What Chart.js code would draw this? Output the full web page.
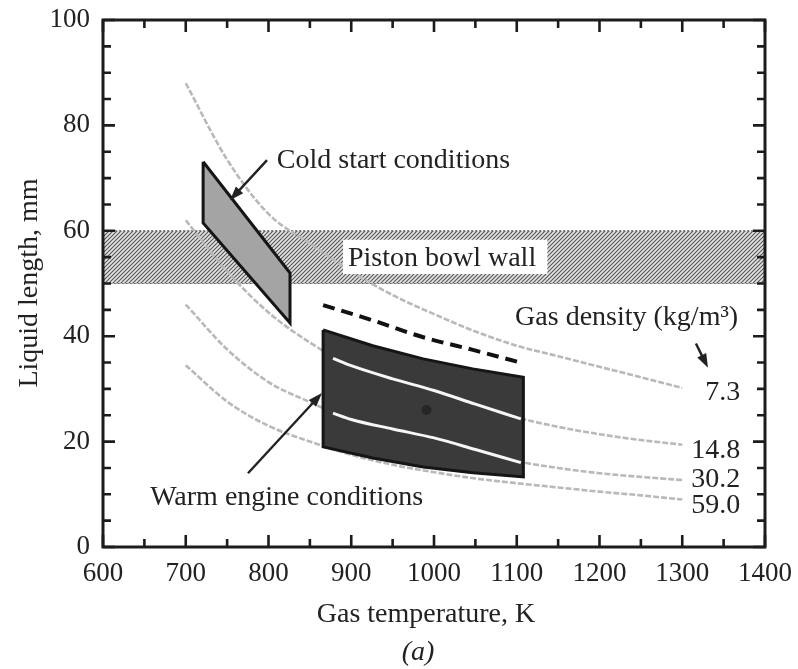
<!DOCTYPE html>
<html>
<head>
<meta charset="utf-8">
<script src="https://cdn.jsdelivr.net/npm/chart.js@4.4.0/dist/chart.umd.min.js"></script>
<style>
  html, body { margin: 0; padding: 0; background: #fff; }
  #wrap { width: 798px; height: 669px; position: relative; }
</style>
</head>
<body>
<div id="wrap"><canvas id="sprayChart"></canvas></div>
<script>
// gas temperature (K) and liquid length (mm) for each gas density curve
const temps = [700, 750, 800, 850, 900, 950, 1000, 1050, 1100, 1150, 1200, 1250, 1300];
const len73 = [88, 73.5, 63.2, 57.6, 52.3, 47.8, 44.2, 40.9, 38.2, 36.2, 34.2, 32.2, 30.2];
const len148 = [62, 52.3, 44.5, 38.8, 34.4, 31.9, 29.7, 27.1, 24.6, 22.8, 21.4, 20.3, 19.4];
const len302 = [46, 37.5, 31.3, 27.5, 24.2, 22.4, 20.7, 18.5, 16.3, 15.0, 14.0, 13.3, 12.7];
const len590 = [34.5, 27.6, 23.0, 20.0, 17.5, 15.6, 14.2, 13.0, 12.1, 11.3, 10.5, 9.8, 9.0];
const densityLabels = ['7.3', '14.8', '30.2', '59.0'];

// white parts of the 14.8 and 30.2 curves inside the warm box
const whiteTemps = [878, 900, 950, 1000, 1050, 1105];
const white148 = [35.8, 34.4, 31.9, 29.7, 27.1, 24.3];
const white302 = [25.4, 24.2, 22.4, 20.7, 18.5, 16.0];

// cold start region outline
const coldTemps = [721, 826, 826, 721, 721];
const coldLens = [73.1, 52.0, 42.5, 61.5, 73.1];

// warm engine region outline
const warmTemps = [866, 926, 987, 1047, 1108, 1108, 1047, 987, 926, 866, 866];
const warmLens = [41.2, 38.2, 35.7, 33.8, 32.2, 13.3, 14.1, 15.2, 16.9, 19.0, 41.2];

// dashed line above the warm box
const dashTemps = [866, 926, 987, 1047, 1102];
const dashLens = [45.9, 43.0, 39.8, 37.4, 35.1];

// piston bowl wall band
const wallTemps = [600, 1400, 1400, 600, 600];
const wallLens = [60, 60, 50, 50, 60];

const FONT = 'Liberation Serif';

function toPoints(xs, ys) {
    return xs.map((x, i) => ({ x, y: ys[i] }));
}

function hatchPattern() {
    const c = document.createElement('canvas');
    c.width = 4; c.height = 4;
    const g = c.getContext('2d');
    g.fillStyle = '#e4e4e4';
    g.fillRect(0, 0, 4, 4);
    g.strokeStyle = '#555';
    g.lineWidth = 1.1;
    g.beginPath();
    g.moveTo(0, 4); g.lineTo(4, 0);
    g.moveTo(-1, 1); g.lineTo(1, -1);
    g.moveTo(3, 5); g.lineTo(5, 3);
    g.stroke();
    return g.createPattern(c, 'repeat');
}

function curve(values, order) {
    return {
        data: toPoints(temps, values),
        borderColor: '#b9b9b9',
        borderWidth: 2.6,
        borderDash: [6, 2],
        cubicInterpolationMode: 'monotone',
        pointRadius: 0,
        fill: false,
        order
    };
}

function arrow(ctx, x1, y1, x2, y2) {
    const a = Math.atan2(y2 - y1, x2 - x1);
    const c = Math.cos(a), s = Math.sin(a);
    ctx.beginPath();
    ctx.moveTo(x1, y1);
    ctx.lineTo(x2 - 8 * c, y2 - 8 * s);
    ctx.stroke();
    ctx.beginPath();
    ctx.moveTo(x2, y2);
    ctx.lineTo(x2 - 14 * c + 5 * s, y2 - 14 * s - 5 * c);
    ctx.lineTo(x2 - 14 * c - 5 * s, y2 - 14 * s + 5 * c);
    ctx.closePath();
    ctx.fill();
}

// texts and arrows placed in data coordinates
const notes = [
    { text: 'Cold start conditions', x: 810, y: 71.9, align: 'left' },
    { text: 'Piston bowl wall', x: 896, y: 53.3, align: 'left' },
    { text: 'Gas density (kg/m³)', x: 1098, y: 42.1, align: 'left' },
    { text: 'Warm engine conditions', x: 657, y: 8.0, align: 'left' }
];
const densityPos = [27.9, 16.9, 11.4, 6.5];
const arrows = [
    [798.2, 73.4, 753.5, 65.8],
    [775.2, 14.0, 864.6, 29.2],
    [1316.5, 38.6, 1331.1, 34.0]
];

const overlay = {
    id: 'overlay',
    afterDatasetsDraw(chart) {
        const { ctx, chartArea: area, scales: { x, y } } = chart;
        ctx.save();

        // white box behind the wall label
        const bx = x.getPixelForValue(890), by = y.getPixelForValue(58.3);
        ctx.fillStyle = '#fff';
        ctx.fillRect(bx, by, x.getPixelForValue(1137) - bx, y.getPixelForValue(51.8) - by);

        // frame and inward ticks
        ctx.strokeStyle = '#1c1c1c';
        ctx.lineWidth = 3;
        ctx.strokeRect(area.left, area.top, area.right - area.left, area.bottom - area.top);
        ctx.lineWidth = 2.6;
        ctx.beginPath();
        for (let v = 600; v <= 1400; v += 50) {
            const px = x.getPixelForValue(v);
            const len = v % 100 === 0 ? 12 : 8;
            ctx.moveTo(px, area.bottom); ctx.lineTo(px, area.bottom - len);
            ctx.moveTo(px, area.top); ctx.lineTo(px, area.top + len);
        }
        for (let v = 0; v <= 100; v += 5) {
            const py = y.getPixelForValue(v);
            const len = v % 20 === 0 ? 12 : 8;
            ctx.moveTo(area.left, py); ctx.lineTo(area.left + len, py);
            ctx.moveTo(area.right, py); ctx.lineTo(area.right - len, py);
        }
        ctx.stroke();

        // annotation texts
        ctx.fillStyle = '#222';
        ctx.font = '28px "' + FONT + '"';
        ctx.textBaseline = 'alphabetic';
        notes.forEach(n => {
            ctx.textAlign = n.align;
            ctx.fillText(n.text, x.getPixelForValue(n.x), y.getPixelForValue(n.y));
        });
        ctx.textAlign = 'right';
        densityLabels.forEach((lbl, i) => {
            ctx.fillText(lbl, x.getPixelForValue(1370), y.getPixelForValue(densityPos[i]));
        });

        // arrows
        ctx.strokeStyle = '#222';
        ctx.lineWidth = 2.4;
        arrows.forEach(a => arrow(ctx,
            x.getPixelForValue(a[0]), y.getPixelForValue(a[1]),
            x.getPixelForValue(a[2]), y.getPixelForValue(a[3])));

        // axis titles
        ctx.textAlign = 'center';
        ctx.fillText('Gas temperature, K', 426, 622);
        ctx.font = 'italic 28px "' + FONT + '"';
        ctx.fillText('(a)', 418, 660);
        ctx.font = '28px "' + FONT + '"';
        ctx.translate(30, 283);
        ctx.rotate(-Math.PI / 2);
        ctx.textBaseline = 'middle';
        ctx.fillText('Liquid length, mm', 0, 0);

        ctx.restore();
    }
};

new Chart(document.getElementById('sprayChart'), {
    type: 'line',
    data: {
        datasets: [
            {
                data: toPoints(wallTemps, wallLens),
                backgroundColor: hatchPattern(),
                borderColor: '#666',
                borderWidth: 1.2,
                borderDash: [2, 2],
                tension: 0,
                pointRadius: 0,
                fill: 'shape',
                order: 20
            },
            curve(len73, 15),
            curve(len148, 14),
            curve(len302, 13),
            curve(len590, 12),
            {
                data: toPoints(coldTemps, coldLens),
                backgroundColor: '#a4a4a4',
                borderColor: '#151515',
                borderWidth: 3,
                tension: 0,
                pointRadius: 0,
                fill: 'shape',
                order: 10
            },
            {
                data: toPoints(warmTemps, warmLens),
                backgroundColor: '#3a3a3a',
                borderColor: '#151515',
                borderWidth: 3,
                tension: 0,
                pointRadius: 0,
                fill: 'shape',
                order: 9
            },
            {
                data: toPoints(whiteTemps, white148),
                borderColor: '#f6f6f6',
                borderWidth: 3,
                cubicInterpolationMode: 'monotone',
                pointRadius: 0,
                fill: false,
                order: 8
            },
            {
                data: toPoints(whiteTemps, white302),
                borderColor: '#f6f6f6',
                borderWidth: 3,
                cubicInterpolationMode: 'monotone',
                pointRadius: 0,
                fill: false,
                order: 7
            },
            {
                data: toPoints(dashTemps, dashLens),
                borderColor: '#111',
                borderWidth: 4,
                borderDash: [12, 7],
                cubicInterpolationMode: 'monotone',
                pointRadius: 0,
                fill: false,
                order: 6
            },
            {
                data: [{ x: 991, y: 26 }],
                showLine: false,
                pointRadius: 5,
                pointBackgroundColor: '#262626',
                pointBorderWidth: 0,
                order: 5
            }
        ]
    },
    options: {
        animation: false,
        responsive: true,
        maintainAspectRatio: false,
        layout: { padding: { left: 0, right: 33, top: 20, bottom: 0 } },
        plugins: {
            legend: { display: false },
            tooltip: { enabled: false }
        },
        scales: {
            x: {
                type: 'linear',
                min: 600,
                max: 1400,
                grid: { display: false, drawTicks: false },
                border: { display: false },
                ticks: {
                    stepSize: 100, padding: 11, color: '#222',
                    font: { family: FONT, size: 27 },
                    callback: v => String(v)
                },
                afterFit: s => { s.height = 122; s.paddingLeft = 0; s.paddingRight = 0; }
            },
            y: {
                type: 'linear',
                min: 0,
                max: 100,
                grid: { display: false, drawTicks: false },
                border: { display: false },
                ticks: {
                    stepSize: 20, padding: 13, color: '#222',
                    font: { family: FONT, size: 27 },
                    callback: v => String(v)
                },
                afterFit: s => { s.width = 103; s.paddingTop = 0; s.paddingBottom = 0; }
            }
        }
    },
    plugins: [overlay]
});
</script>
</body>
</html>
